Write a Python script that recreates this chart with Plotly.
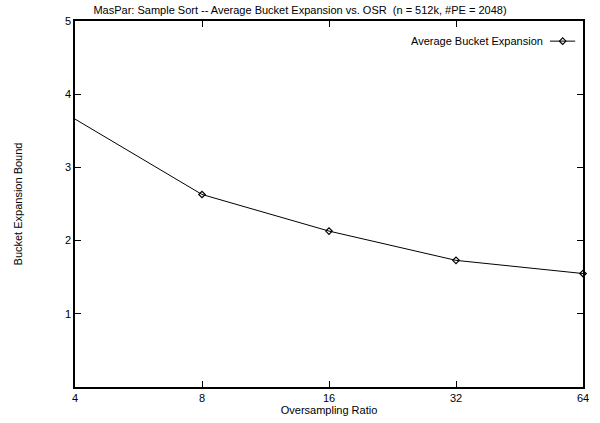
import plotly.graph_objects as go

# Oversampling ratio vs. average bucket expansion
osr = [4, 8, 16, 32, 64]
avg_expansion = [3.66, 2.63, 2.13, 1.73, 1.55]
x_ticks = [4, 8, 16, 32, 64]
y_ticks = [1, 2, 3, 4, 5]

FONT = "Liberation Sans, Arial, sans-serif"

fig = go.Figure()
fig.add_trace(go.Scatter(
    x=osr, y=avg_expansion, mode="lines+markers",
    line=dict(color="black", width=1),
    marker=dict(symbol="diamond-open", size=5, color="black", line=dict(width=1.2)),
    showlegend=False, cliponaxis=False,
))

# Key sample (line with marker to the right of the label), on an overlay axis pair
fig.add_trace(go.Scatter(
    x=[0.0, 0.5, 1.0], y=[0.5, 0.5, 0.5], mode="lines",
    line=dict(color="black", width=1),
    xaxis="x2", yaxis="y2", showlegend=False, hoverinfo="skip",
))
fig.add_trace(go.Scatter(
    x=[0.5], y=[0.5], mode="markers",
    marker=dict(symbol="diamond-open", size=5, color="black", line=dict(width=1.2)),
    xaxis="x2", yaxis="y2", showlegend=False, hoverinfo="skip",
))

fig.update_layout(
    width=600, height=423,
    margin=dict(l=75, r=11, t=21, b=35),
    paper_bgcolor="white", plot_bgcolor="white",
    font=dict(family=FONT, size=11, color="black"),
    title=dict(
        text="MasPar: Sample Sort -- Average Bucket Expansion vs. OSR  (n = 512k, #PE = 2048)",
        x=0.5, xanchor="center", y=0.985, yanchor="top",
        font=dict(family=FONT, size=11, color="black"),
    ),
    xaxis=dict(
        type="log", range=[0.60206, 1.80618],
        tickvals=x_ticks, ticktext=[str(v) for v in x_ticks],
        ticks="inside", ticklen=6, tickcolor="black", tickwidth=1,
        showline=True, linecolor="black", linewidth=1.5, mirror="ticks",
        showgrid=False, zeroline=False,
        title=dict(text="Oversampling Ratio", standoff=0, font=dict(size=11)),
        tickfont=dict(size=11),
    ),
    yaxis=dict(
        range=[0, 5], tickvals=y_ticks,
        ticks="inside", ticklen=6, tickcolor="black", tickwidth=1,
        showline=True, linecolor="black", linewidth=1.5, mirror="ticks",
        showgrid=False, zeroline=False,
        title=dict(text="Bucket Expansion Bound", standoff=40, font=dict(size=11)),
        tickfont=dict(size=11),
    ),
    xaxis2=dict(domain=[0.935, 0.985], range=[0, 1], visible=False, anchor="y2", fixedrange=True),
    yaxis2=dict(domain=[0.925, 0.965], range=[0, 1], visible=False, anchor="x2", fixedrange=True),
    annotations=[dict(
        text="Average Bucket Expansion", xref="paper", yref="paper",
        x=0.925, y=0.945, xanchor="right", yanchor="middle", showarrow=False,
        font=dict(family=FONT, size=11, color="black"),
    )],
)

fig.write_html("out.html")
